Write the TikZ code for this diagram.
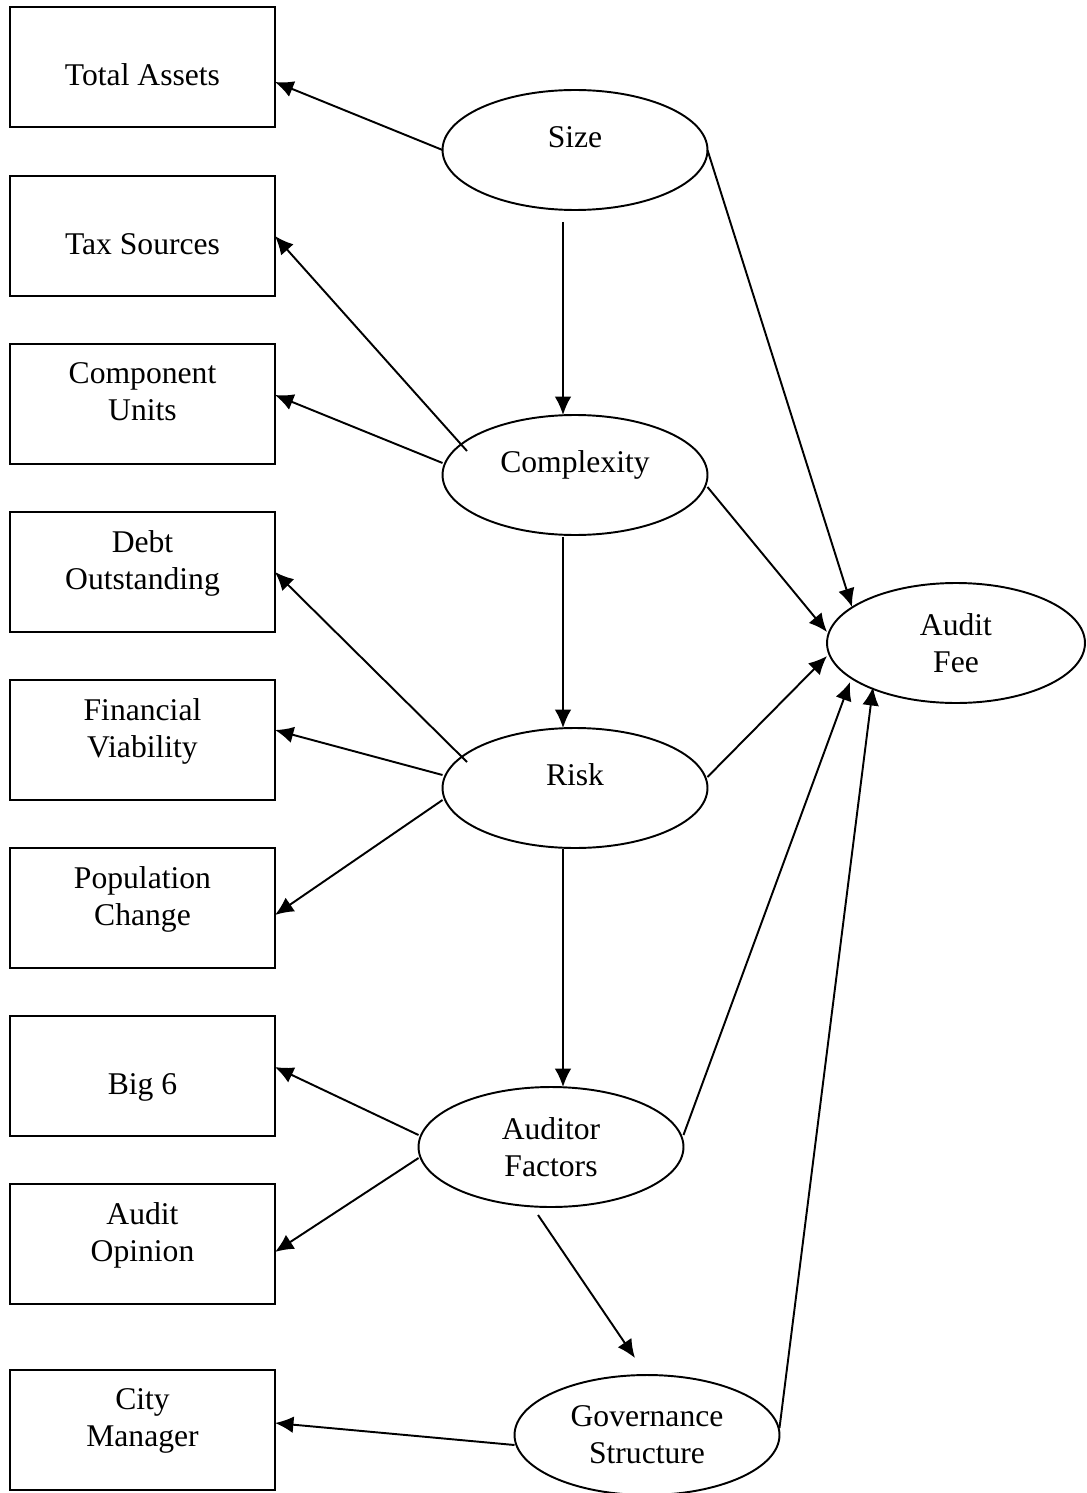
\documentclass[tikz,border=0pt]{standalone}
\usepackage{fontspec}
\setmainfont{Liberation Serif}
\usepackage{tikz}
\usetikzlibrary{calc}
\usetikzlibrary{shapes.geometric}
\usetikzlibrary{arrows.meta}
\tikzset{
  box/.style={draw,line width=1.1pt,minimum width=5.3cm,minimum height=2.4cm,inner sep=0pt,outer sep=0pt,align=center},
  oval/.style={draw,ellipse,line width=1.1pt,minimum width=5.3cm,minimum height=2.4cm,inner sep=0pt,outer sep=0pt,align=center},
  lower/.style={text height=21pt,text depth=0pt},
  upper/.style={text depth=14pt},
  link/.style={line width=1.1pt,-{Latex[length=10.5pt,width=9.5pt]}}
}
\begin{document}
\begin{tikzpicture}[x=0.02cm,y=-0.02cm,font=\fontsize{18}{21}\selectfont]
  \useasboundingbox (0,0) rectangle (1086,1493);
  \node[box,lower] (ta) at (142.5,67) {Total Assets};
  \node[box,lower] (ts) at (142.5,236) {Tax Sources};
  \node[box,upper] (cu) at (142.5,404) {Component\\Units};
  \node[box,upper] (do) at (142.5,572) {Debt\\Outstanding};
  \node[box,upper] (fv) at (142.5,740) {Financial\\Viability};
  \node[box,upper] (pc) at (142.5,908) {Population\\Change};
  \node[box,lower] (bs) at (142.5,1076) {Big 6};
  \node[box,upper] (ao) at (142.5,1244) {Audit\\Opinion};
  \node[box,upper] (cm) at (142.5,1430) {City\\Manager};
  \node[oval,text depth=15pt] (size) at (575,150) {Size};
  \node[oval,text depth=15pt] (cx) at (575,475) {Complexity};
  \node[oval,text depth=15pt] (risk) at (575,788) {Risk};
  \node[oval] (af) at (551,1147) {Auditor\\Factors};
  \node[oval] (gs) at (647,1435) {Governance\\Structure};
  \node[oval,minimum width=5.16cm] (fee) at (956,643) {Audit\\Fee};
  \draw[link] (size.west) -- ($(ta.east)+(0,15)$);
  \draw[link] ($(size.south)+(-12,12)$) -- ($(cx.north)+(-12,0)$);
  \draw[link] (size.east) -- ($(fee.center)+(-104,-36)$);
  \draw[link] ($(cx.center)+(-108,-24)$) -- (ts.east);
  \draw[link] ($(cx.west)+(0,-12)$) -- ($(cu.east)+(0,-9)$);
  \draw[link] ($(cx.south)+(-12,2)$) -- ($(risk.north)+(-12,0)$);
  \draw[link] ($(cx.east)+(0,12)$) -- ($(fee.center)+(-129,-11)$);
  \draw[link] ($(risk.center)+(-108,-26)$) -- (do.east);
  \draw[link] ($(risk.west)+(0,-13)$) -- ($(fv.east)+(0,-10)$);
  \draw[link] ($(risk.west)+(0,12)$) -- ($(pc.east)+(0,7)$);
  \draw[link] ($(risk.east)+(0,-11)$) -- ($(fee.center)+(-129,13)$);
  \draw[link] ($(risk.south)+(-12,1)$) -- ($(af.north)+(12,0)$);
  \draw[link] ($(af.west)+(0,-12)$) -- ($(bs.east)+(0,-9)$);
  \draw[link] ($(af.west)+(0,11)$) -- ($(ao.east)+(0,8)$);
  \draw[link] ($(af.south)+(-13,8)$) -- ($(gs.north)+(-12,-17)$);
  \draw[link] ($(af.east)+(0,-12)$) -- ($(fee.center)+(-106,39)$);
  \draw[link] ($(gs.west)+(0,10)$) -- ($(cm.east)+(0,-7)$);
  \draw[link] ($(gs.east)+(0,-7)$) -- ($(fee.center)+(-83,44)$);
\end{tikzpicture}
\end{document}
